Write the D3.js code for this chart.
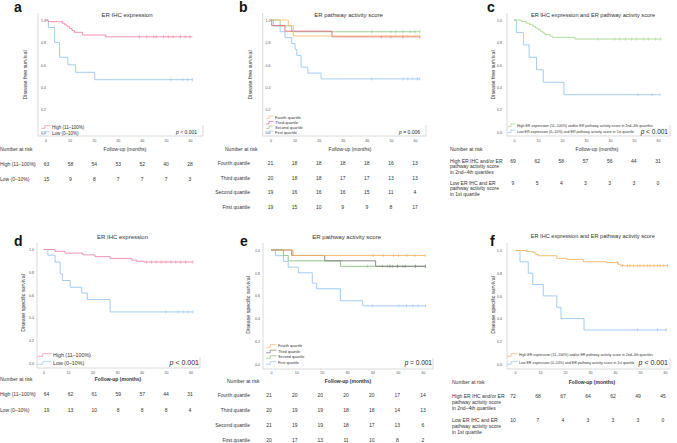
<!DOCTYPE html>
<html><head><meta charset="utf-8">
<script src="https://cdn.jsdelivr.net/npm/d3@7"></script>
<style>body{margin:0;background:#fff}svg{display:block;font-family:"Liberation Sans",Arial,sans-serif}</style>
</head><body><svg id="chart" width="677" height="443"></svg>
<script>
// ---------- DATA ----------
const timeTicks = [0, 10, 20, 30, 40, 50, 60];
const survTicks = [0.0, 0.2, 0.4, 0.6, 0.8, 1.0];
const riskTimes = [0, 10, 20, 30, 40, 50, 60];

// a: ER IHC expression, disease free survival
const aHighSteps = [[0,1],[1,0.985],[7,0.97],[8,0.955],[9,0.94],[10,0.925],[11,0.905],[12,0.89],[15.4,0.866],[25,0.85]];
const aHighCensor = [39, 42, 45, 46, 49, 51, 53, 56, 58, 60];
const aLowSteps = [[0,1],[1.2,0.933],[3.8,0.8],[5.8,0.667],[9.3,0.6],[12.5,0.533],[20.4,0.467]];
const aLowCensor = [52, 57, 59, 61];
const aHighRisk = [63, 58, 54, 53, 52, 40, 28];
const aLowRisk = [15, 9, 8, 7, 7, 7, 3];

// b: ER pathway activity score, disease free survival
const bFourthSteps = [[0,1],[7.4,0.952],[9.5,0.857]];
const bFourthCensor = [48, 52, 57, 60];
const bThirdSteps = [[0,1],[0.5,0.95],[6,0.9],[25.5,0.85]];
const bThirdCensor = [46, 50, 55, 62];
const bSecondSteps = [[0,1],[4,0.947],[8.8,0.895]];
const bSecondCensor = [42, 50, 52, 55, 58, 60, 62];
const bFirstSteps = [[0,1],[1.2,0.947],[4,0.895],[6,0.842],[8.8,0.789],[10.2,0.737],[10.9,0.684],[12.7,0.579],[15.5,0.526],[21,0.474]];
const bFirstCensor = [42, 55, 57, 59, 61, 62];
const bFourthRisk = [21, 18, 18, 18, 18, 16, 13];
const bThirdRisk = [20, 18, 18, 17, 17, 13, 13];
const bSecondRisk = [19, 16, 16, 16, 15, 11, 4];
const bFirstRisk = [19, 15, 10, 9, 9, 8, 17];

// c: combined, disease free survival
const cHighSteps = [[0,1],[3,0.986],[5,0.971],[6.5,0.957],[8,0.942],[9,0.928],[10,0.913],[11,0.899],[12,0.884],[13,0.87],[15,0.855],[16,0.845],[25.4,0.83]];
const cHighCensor = [35, 42, 44, 46.5, 49, 51, 54, 56, 59, 61];
const cLowSteps = [[0,1],[1,0.889],[4,0.778],[6.3,0.667],[9.4,0.556],[12.2,0.444],[20.8,0.333]];
const cLowCensor = [51.7, 57.5, 60.8];
const cHighRisk = [69, 62, 58, 57, 56, 44, 31];
const cLowRisk = [9, 5, 4, 3, 3, 3, 0];

// d: ER IHC expression, disease specific survival
const dHighSteps = [[0,1],[4.7,0.984],[8.8,0.968],[16,0.953],[21,0.937],[27.2,0.921],[36,0.906],[38,0.897],[41,0.89]];
const dHighCensor = [42, 44, 46, 48, 50, 52, 54, 56, 58, 61];
const dLowSteps = [[0,1],[1.8,0.95],[4.7,0.89],[6.8,0.786],[7.7,0.727],[10.9,0.667],[15.6,0.617],[17.9,0.559],[27.2,0.45]];
const dLowCensor = [50, 55, 57, 59, 61];
const dHighRisk = [64, 62, 61, 59, 57, 44, 31];
const dLowRisk = [19, 13, 10, 8, 8, 8, 4];

// e: ER pathway activity score, disease specific survival
const eFourthSteps = [[0,1],[8.7,0.952]];
const eFourthCensor = [40.4, 44.3, 48.3, 50.3, 53.6, 56.8, 60.8];
const eThirdSteps = [[0,1],[8.2,0.952],[21.2,0.905],[41.3,0.857]];
const eThirdCensor = [47, 50, 53, 57, 61];
const eSecondSteps = [[0,1],[4.9,0.952],[6.8,0.905],[27.4,0.857]];
const eSecondCensor = [38, 44, 46, 48, 50, 52, 57, 61];
const eFirstSteps = [[0,1],[1.8,0.95],[4.9,0.9],[6.8,0.85],[10.8,0.8],[16.3,0.71],[18,0.66],[27.4,0.555],[36.2,0.51]];
const eFirstCensor = [40, 50.5, 53.5, 56, 58, 61];
const eFourthRisk = [21, 20, 20, 20, 20, 17, 14];
const eThirdRisk = [20, 19, 19, 18, 18, 14, 13];
const eSecondRisk = [21, 19, 19, 18, 17, 13, 6];
const eFirstRisk = [20, 17, 13, 11, 10, 8, 2];

// f: combined, disease specific survival
const fHighSteps = [[0,1],[4.7,0.99],[7.3,0.98],[8.3,0.965],[9.3,0.954],[16.7,0.931],[20.7,0.922],[27.3,0.901],[36.7,0.893],[41.3,0.878],[42.3,0.866]];
const fHighCensor = [41, 43, 45, 46, 47.5, 49, 50, 51.5, 53, 54, 55.5, 57, 58, 59.5, 61];
const fLowSteps = [[0,1],[2,0.9],[5.3,0.8],[7.1,0.7],[11.3,0.6],[16.7,0.5],[18.4,0.4],[27.6,0.3]];
const fLowCensor = [49, 57, 60.5];
const fHighRisk = [72, 68, 67, 64, 62, 49, 45];
const fLowRisk = [10, 7, 4, 3, 3, 3, 0];

const ihcLabels = ["High (11–100%)", "Low (0–10%)"];
const quartileLabels = ["Fourth quartile", "Third quartile", "Second quartile", "First quartile"];
const comboLegend = ["High ER expression (11–100%) and/or ER pathway activity score in 2nd–4th quartiles",
                     "Low ER expression (0–10%) and ER pathway activity score in 1st quartile"];
const comboRiskLabels = [["High ER IHC and/or ER", "pathway activity score", "in 2nd–4th quartiles"],
                         ["Low ER IHC and ER", "pathway activity score", "in 1st quartile"]];

// ---------- STYLE ----------
const C = {pink:"#ef86a3", blue:"#98c6ef", green:"#a5da8f", orange:"#f5be72", red:"#e06482",
           green2:"#93cc84", grey:"#7d7d7d", orange2:"#f4b462", green3:"#88c07c", text:"#333", frame:"#cfcfcf"};

const panels = [
 {letter:"a", title:"ER IHC expression", yTitle:"Disease free survival", p:"< 0.001",
  series:[{s:aHighSteps,c:aHighCensor,end:61,col:C.pink,lab:ihcLabels[0]},{s:aLowSteps,c:aLowCensor,end:61,col:C.blue,lab:ihcLabels[1]}],
  risk:[[[ihcLabels[0]],aHighRisk],[[ihcLabels[1]],aLowRisk]],
  L:{x:[45.5,190],y:[132,20],frame:[38,203,13,136],yTickX:46,xTickY:141,yTitle:[25,75],title:[127,15,6],letter:[14,11.5],
     leg:{x:41,tx:52,y:[127,133],fs:4.5},pv:{x:197,y:132,fs:5},
     rk:{headY:149,headX:0,followX:125,bold:false,rowY:[164,179],lh:0,labelX:0,anchor:"start",valX:[46.5,190]}}},
 {letter:"b", title:"ER pathway activity score", yTitle:"Disease free survival", p:"= 0.006",
  series:[{s:bFourthSteps,c:bFourthCensor,end:62,col:C.orange,lab:quartileLabels[0]},{s:bThirdSteps,c:bThirdCensor,end:62,col:C.red,lab:quartileLabels[1]},
          {s:bSecondSteps,c:bSecondCensor,end:62,col:C.green2,lab:quartileLabels[2]},{s:bFirstSteps,c:bFirstCensor,end:62,col:C.blue,lab:quartileLabels[3]}],
  risk:[[[quartileLabels[0]],bFourthRisk],[[quartileLabels[1]],bThirdRisk],[[quartileLabels[2]],bSecondRisk],[[quartileLabels[3]],bFirstRisk]],
  L:{x:[270.5,415],y:[132,20],frame:[262.7,426,13,136],yTickX:270.5,xTickY:141,yTitle:[250,75],title:[348.5,15,6],letter:[239,11.5],
     leg:{x:266,tx:275,y:[117.3,122.7,127.3,132.3],fs:4},pv:{x:420,y:132,fs:5},
     rk:{headY:149,headX:225,followX:350,bold:false,rowY:[163,178,192,207],lh:0,labelX:250,anchor:"end",valX:[270.5,415]}}},
 {letter:"c", title:"ER IHC expression and ER pathway activity score", yTitle:"Disease free survival", p:"< 0.001",
  series:[{s:cHighSteps,c:cHighCensor,end:61.5,col:C.green,lab:comboLegend[0]},{s:cLowSteps,c:cLowCensor,end:60.8,col:C.blue,lab:comboLegend[1]}],
  risk:[[comboRiskLabels[0],cHighRisk],[comboRiskLabels[1],cLowRisk]],
  L:{x:[514,658],y:[132,20],frame:[507,670,13,136],yTickX:502,xTickY:141,yTitle:[493,75],title:[593,15,5.6],letter:[487,11.5],
     leg:{x:508,tx:517,y:[125.3,131.3],fs:3.6},pv:{x:668,y:131.7,fs:6.5},
     rk:{headY:149,headX:450,followX:597,bold:false,rowY:[161,183],lh:5.7,labelX:450,anchor:"start",valX:[513,658]}}},
 {letter:"d", title:"ER IHC expression", yTitle:"Disease specific survival", p:"< 0.001",
  series:[{s:dHighSteps,c:dHighCensor,end:61,col:C.pink,lab:ihcLabels[0]},{s:dLowSteps,c:dLowCensor,end:61,col:C.blue,lab:ihcLabels[1]}],
  risk:[[[ihcLabels[0]],dHighRisk],[[ihcLabels[1]],dLowRisk]],
  L:{x:[43.5,190.5],y:[363,249.5],frame:[37,200,243,368],yTickX:34,xTickY:372.5,yTitle:[23,303],title:[122.5,237,6],letter:[14,245.5],
     leg:{x:37,tx:53,y:[355,363],fs:5.3},pv:{x:199,y:363,fs:7},
     rk:{headY:379,headX:0,followX:118,bold:true,rowY:[394,410],lh:0,labelX:0,anchor:"start",valX:[46.5,190]}}},
 {letter:"e", title:"ER pathway activity score", yTitle:"Disease specific survival", p:"= 0.001",
  series:[{s:eFourthSteps,c:eFourthCensor,end:61,col:C.orange2,lab:quartileLabels[0]},{s:eThirdSteps,c:eThirdCensor,end:61,col:C.grey,lab:quartileLabels[1]},
          {s:eSecondSteps,c:eSecondCensor,end:61,col:C.green3,lab:quartileLabels[2]},{s:eFirstSteps,c:eFirstCensor,end:61,col:C.blue,lab:quartileLabels[3]}],
  risk:[[[quartileLabels[0]],eFourthRisk],[[quartileLabels[1]],eThirdRisk],[[quartileLabels[2]],eSecondRisk],[[quartileLabels[3]],eFirstRisk]],
  L:{x:[271,423],y:[364,250],frame:[263,433,243,369],yTickX:260,xTickY:373,yTitle:[248,305],title:[346.7,237,6],letter:[240,245.5],
     leg:{x:266,tx:278,y:[346,351.5,357,363],fs:3.8},pv:{x:432,y:363,fs:6.5},
     rk:{headY:381,headX:227,followX:348,bold:true,rowY:[395,410,425,440],lh:0,labelX:250,anchor:"end",valX:[269,423]}}},
 {letter:"f", title:"ER IHC expression and ER pathway activity score", yTitle:"Disease specific survival", p:"< 0.001",
  series:[{s:fHighSteps,c:fHighCensor,end:61.2,col:C.orange2,lab:comboLegend[0]},{s:fLowSteps,c:fLowCensor,end:60.8,col:C.blue,lab:comboLegend[1]}],
  risk:[[comboRiskLabels[0],fHighRisk],[comboRiskLabels[1],fLowRisk]],
  L:{x:[515,665],y:[364,250.5],frame:[507,670,243,369],yTickX:502,xTickY:373,yTitle:[493,305],title:[592.8,236.5,5.6],letter:[490,245.5],
     leg:{x:507,tx:519,y:[355,363],fs:3.55},pv:{x:668,y:363,fs:7},
     rk:{headY:382,headX:452,followX:592,bold:true,rowY:[396,420],lh:6,labelX:452,anchor:"start",valX:[513,663]}}}
];

const svg = d3.select("#chart");

function survAt(steps, t){ let v = steps[0][1]; for (const [tt, s] of steps) if (tt <= t) v = s; return v; }

panels.forEach(P => {
  const L = P.L;
  const g = svg.append("g");
  const x = d3.scaleLinear().domain([0, 60]).range(L.x);
  const y = d3.scaleLinear().domain([0, 1]).range(L.y);
  const [fl, fr, ft, fb] = L.frame;

  // frame
  g.append("path").attr("d", `M${fl},${ft}V${fb}H${fr}V${fb-11}`)
    .attr("fill", "none").attr("stroke", C.frame).attr("stroke-width", 0.8);

  // axes (labels only)
  const xa = g.append("g").attr("transform", `translate(0,${L.xTickY})`)
    .call(d3.axisBottom(x).tickValues(timeTicks).tickSize(0).tickPadding(0));
  xa.select(".domain").remove();
  xa.selectAll("text").attr("dy", "0.35em").attr("font-size", 3.6).attr("fill", "#555").attr("font-family", "Liberation Sans, Arial");
  const ya = g.append("g").attr("transform", `translate(${L.yTickX},0)`)
    .call(d3.axisLeft(y).tickValues(survTicks).tickFormat(d3.format(".1f")).tickSize(0).tickPadding(0));
  ya.select(".domain").remove();
  ya.selectAll("text").attr("dy", "0.35em").attr("font-size", 3.6).attr("fill", "#555").attr("font-family", "Liberation Sans, Arial");

  // titles
  g.append("text").attr("x", L.letter[0]).attr("y", L.letter[1]).text(P.letter)
    .attr("font-size", 14).attr("font-weight", "bold").attr("fill", "#111");
  g.append("text").attr("x", L.title[0]).attr("y", L.title[1]).attr("dy", "0.35em").attr("text-anchor", "middle")
    .attr("font-size", L.title[2]).attr("fill", C.text).text(P.title);
  g.append("text").attr("transform", `translate(${L.yTitle[0]},${L.yTitle[1]}) rotate(-90)`).attr("dy", "0.35em")
    .attr("text-anchor", "middle").attr("font-size", 5.3).attr("fill", C.text).text(P.yTitle);

  // curves
  const line = d3.line().x(d => x(d[0])).y(d => y(d[1])).curve(d3.curveStepAfter);
  P.series.slice().reverse().forEach(S => {
    const pts = S.s.concat([[S.end, S.s[S.s.length - 1][1]]]);
    g.append("path").attr("d", line(pts)).attr("fill", "none").attr("stroke", S.col).attr("stroke-width", 0.9);
    S.c.forEach(t => {
      const sv = survAt(S.s, t);
      g.append("line").attr("x1", x(t)).attr("x2", x(t)).attr("y1", y(sv) - 1.6).attr("y2", y(sv) + 1.6)
        .attr("stroke", S.col).attr("stroke-width", 0.6);
    });
  });

  // legend
  P.series.forEach((S, i) => {
    const ly = L.leg.y[i], lx = L.leg.x, w = L.leg.tx - lx - 1.5;
    g.append("path").attr("d", `M${lx},${ly + 1.3}H${lx + w * 0.4}V${ly - 1.3}H${lx + w}`)
      .attr("fill", "none").attr("stroke", S.col).attr("stroke-width", 0.7);
    g.append("text").attr("x", L.leg.tx).attr("y", ly).attr("dy", "0.35em").attr("font-size", L.leg.fs)
      .attr("fill", C.text).text(S.lab);
  });

  // p-value
  const pt = g.append("text").attr("x", L.pv.x).attr("y", L.pv.y).attr("dy", "0.35em").attr("text-anchor", "end")
    .attr("font-size", L.pv.fs).attr("fill", "#222");
  pt.append("tspan").attr("font-style", "italic").text("p");
  pt.append("tspan").text(" " + P.p);

  // number at risk table
  const R = L.rk;
  const xr = d3.scaleLinear().domain([0, 60]).range(R.valX);
  g.append("text").attr("x", R.headX).attr("y", R.headY).attr("dy", "0.35em").attr("font-size", 5)
    .attr("fill", C.text).text("Number at risk");
  g.append("text").attr("x", R.followX).attr("y", R.headY).attr("dy", "0.35em").attr("font-size", 5)
    .attr("text-anchor", "middle").attr("font-weight", R.bold ? "bold" : "normal").attr("fill", C.text).text("Follow-up (months)");
  P.risk.forEach(([labs, vals], i) => {
    const ry = R.rowY[i];
    labs.forEach((lt, j) => {
      g.append("text").attr("x", R.labelX).attr("y", ry + j * R.lh).attr("dy", "0.35em").attr("font-size", 5)
        .attr("text-anchor", R.anchor).attr("fill", C.text).text(lt);
    });
    vals.forEach((v, k) => {
      g.append("text").attr("x", xr(riskTimes[k])).attr("y", ry).attr("dy", "0.35em").attr("font-size", 5)
        .attr("text-anchor", "middle").attr("fill", C.text).text(v);
    });
  });
});
</script>
</body></html>
